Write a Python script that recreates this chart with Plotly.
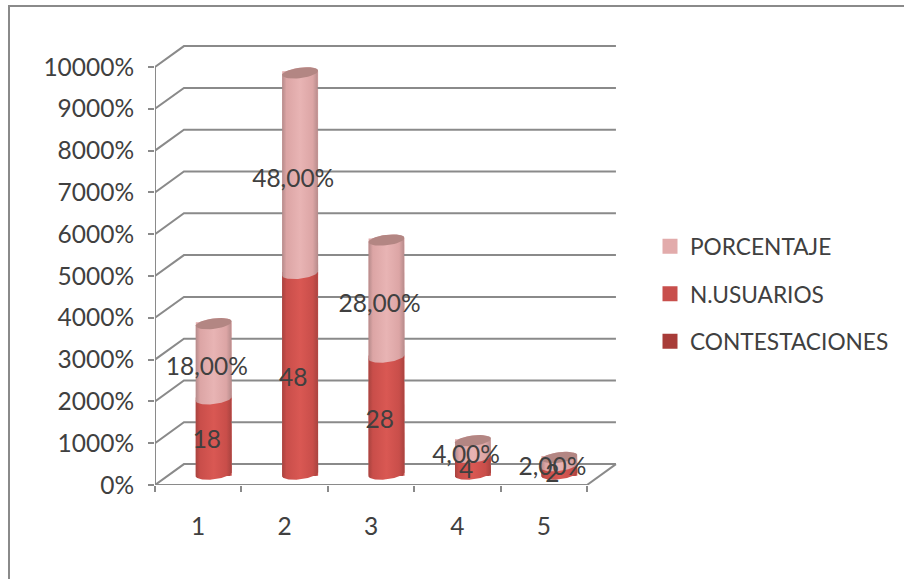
import numpy as np
import plotly.graph_objects as go

# Survey results: one stacked column per answer option
categories = [1, 2, 3, 4, 5]
n_usuarios = [18, 48, 28, 4, 2]
porcentaje = [18, 48, 28, 4, 2]
porcentaje_labels = ["18,00%", "48,00%", "28,00%", "4,00%", "2,00%"]
contestaciones = [0, 0, 0, 0, 0]
y_ticks = [0, 10, 20, 30, 40, 50, 60, 70, 80, 90, 100]

W, H = 904, 579
PLOT_L, PLOT_R = 155, 620
PLOT_T, PLOT_B = 40, 485
X_MIN, X_MAX = 0.5, 5.882
Y_MIN, Y_MAX = 0, 106.46
GREY = "#8a8a8a"
TEXT = "#404040"
FONT = "Lato"
FS = 24.5
LEGEND_FS = 22.7

# Pseudo-3D projection of the chart box, expressed in data units
DEPTH_X, DEPTH_Y = 0.335, 5.0
CYL_X, CYL_Y = 0.18, 2.6
RADIUS_X, RADIUS_Y, TILT = 0.208, 1.25, 0.5


def arc(cx, cy, start, stop):
    t = np.linspace(start, stop, 40)
    return (cx + RADIUS_X * np.cos(t)).tolist(), (cy + RADIUS_Y * np.sin(t) + TILT * np.cos(t)).tolist()


def body(cx, y0, y1):
    bx, by = arc(cx, y0, np.pi, 2 * np.pi)
    tx, ty = arc(cx, y1, 0, np.pi)
    return bx + tx + bx[:1], by + ty + by[:1]


def gradient(edge, mid, light):
    return dict(type="horizontal", colorscale=[[0, edge], [0.12, mid], [0.5, light], [0.85, mid], [1, edge]])


fig = go.Figure()

# Flat columns carry the legend entries; shaded cylinders are drawn over them
column_w = 2 * RADIUS_X - 0.035
col_x = [c + CYL_X for c in categories]
for name, vals, base, color in [
    ("PORCENTAJE", porcentaje, [CYL_Y + v for v in n_usuarios], "#e2abab"),
    ("N.USUARIOS", n_usuarios, [CYL_Y] * 5, "#c84f4c"),
    ("CONTESTACIONES", contestaciones, [CYL_Y] * 5, "#a83c38"),
]:
    fig.add_trace(go.Bar(
        x=col_x, y=vals, base=base, width=column_w, name=name, legendgroup=name,
        marker=dict(color=color, line=dict(color=color, width=3)),
        hoverinfo="skip",
    ))

# Front axes, side wall, back wall and floor lines
gx, gy = [0.5, 0.5, None, 0.5, 5.5, None], [0, 100, None, 0, 0, None]
for v in y_ticks:
    gx += [0.5, 0.5 + DEPTH_X, 5.5 + DEPTH_X, None]
    gy += [v, v + DEPTH_Y, v + DEPTH_Y, None]
gx += [5.5, 5.5 + DEPTH_X, None]
gy += [0, DEPTH_Y, None]
fig.add_trace(go.Scatter(
    x=gx, y=gy, mode="lines", line=dict(color=GREY, width=2),
    showlegend=False, hoverinfo="skip",
))

# Shaded cylinder segments and their end caps
for i, c in enumerate(categories):
    cx = c + CYL_X
    y0 = CYL_Y
    y1 = y0 + n_usuarios[i]
    y2 = y1 + porcentaje[i]
    x_low, y_low = body(cx, y0, y1)
    fig.add_trace(go.Scatter(
        x=x_low, y=y_low, mode="lines", line=dict(width=0), fill="toself",
        fillgradient=gradient("#a8433f", "#c94e4a", "#d95853"),
        showlegend=False, hoverinfo="skip",
    ))
    x_up, y_up = body(cx, y1, y2)
    fig.add_trace(go.Scatter(
        x=x_up, y=y_up, mode="lines", line=dict(width=0), fill="toself",
        fillgradient=gradient("#b58a8a", "#dca5a5", "#e8b4b4"),
        showlegend=False, hoverinfo="skip",
    ))
    cap_x, cap_y = arc(cx, y2, 0, 2 * np.pi)
    fig.add_trace(go.Scatter(
        x=cap_x, y=cap_y, mode="lines", line=dict(width=0), fill="toself",
        fillcolor="#b38683", showlegend=False, hoverinfo="skip",
    ))

# Value labels sit slightly left of each cylinder's axis
label_x = [c + 0.1 for c in categories]
fig.add_trace(go.Scatter(
    x=label_x, y=[v / 2 + 1.2 for v in n_usuarios], mode="text",
    text=[str(v) for v in n_usuarios], textposition="middle center",
    textfont=dict(family=FONT, size=FS, color=TEXT),
    showlegend=False, hoverinfo="skip",
))
fig.add_trace(go.Scatter(
    x=label_x, y=[a + b / 2 + 0.8 for a, b in zip(n_usuarios, porcentaje)], mode="text",
    text=porcentaje_labels, textposition="middle center",
    textfont=dict(family=FONT, size=FS, color=TEXT),
    showlegend=False, hoverinfo="skip",
))

fig.update_layout(
    width=W, height=H, margin=dict(l=0, r=0, t=0, b=0, autoexpand=False),
    paper_bgcolor="white", plot_bgcolor="white", barmode="overlay",
    font=dict(family=FONT, size=FS, color=TEXT),
    xaxis=dict(
        domain=[PLOT_L / W, PLOT_R / W], range=[X_MIN, X_MAX],
        tickmode="array", tickvals=categories, ticktext=[str(c) for c in categories],
        ticks="", ticklabelstandoff=24, showgrid=False, zeroline=False, showline=False,
        minor=dict(tickmode="array", tickvals=[0.5, 1.5, 2.5, 3.5, 4.5, 5.5], ticks="outside",
                   ticklen=6, tickwidth=2, tickcolor=GREY, showgrid=False),
    ),
    yaxis=dict(
        domain=[1 - PLOT_B / H, 1 - PLOT_T / H], range=[Y_MIN, Y_MAX],
        tickmode="array", tickvals=y_ticks, tickformat=".0%",
        ticks="outside", ticklen=6, tickwidth=2, tickcolor=GREY, ticklabelstandoff=9,
        showgrid=False, zeroline=False, showline=False,
    ),
    legend=dict(
        x=650 / W, xanchor="left", y=1 - 225 / H, yanchor="top",
        traceorder="grouped", tracegroupgap=15, itemclick=False, itemdoubleclick=False,
        font=dict(family=FONT, size=LEGEND_FS, color=TEXT), bgcolor="rgba(0,0,0,0)",
    ),
    shapes=[dict(type="rect", xref="paper", yref="paper",
                 x0=9 / W, x1=1.01, y0=-0.01, y1=1 - 6 / H,
                 line=dict(color=GREY, width=2), fillcolor="rgba(0,0,0,0)", layer="below")],
)

fig.write_html("out.html")
